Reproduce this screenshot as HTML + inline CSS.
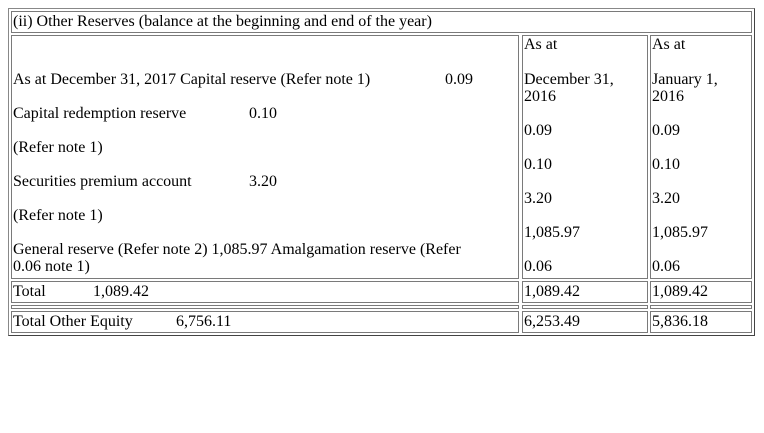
<!DOCTYPE html>
<html><head><meta charset="utf-8"><style>
body{margin:0;width:764px;height:433px;background:#fff;position:relative;font-family:"Liberation Serif",serif;font-size:16px;color:#000;overflow:hidden}
.b{position:absolute;border:1px solid #7a7a7a;box-sizing:border-box}
.t{position:absolute;white-space:nowrap;line-height:18px}
</style></head><body>
<div class="b" style="left:8px;top:8px;width:747px;height:328px;border-color:#888;border-right-color:#444;border-bottom-color:#444"></div>
<div class="b" style="left:11px;top:11px;width:741px;height:22px"></div>
<div class="b" style="left:11px;top:35px;width:508px;height:244px"></div>
<div class="b" style="left:522px;top:35px;width:126px;height:244px"></div>
<div class="b" style="left:650px;top:35px;width:102px;height:244px"></div>
<div class="b" style="left:11px;top:281px;width:508px;height:22px"></div>
<div class="b" style="left:522px;top:281px;width:126px;height:22px"></div>
<div class="b" style="left:650px;top:281px;width:102px;height:22px"></div>
<div class="b" style="left:11px;top:305px;width:508px;height:4px"></div>
<div class="b" style="left:522px;top:305px;width:126px;height:4px"></div>
<div class="b" style="left:650px;top:305px;width:102px;height:4px"></div>
<div class="b" style="left:11px;top:311px;width:508px;height:22px"></div>
<div class="b" style="left:522px;top:311px;width:126px;height:22px"></div>
<div class="b" style="left:650px;top:311px;width:102px;height:22px"></div>

<span class="t" style="left:13px;top:13px">(ii) Other Reserves (balance at the beginning and end of the year)</span>

<span class="t" style="left:13px;top:71px">As at December 31, 2017 Capital reserve (Refer note 1)</span>
<span class="t" style="left:445px;top:71px">0.09</span>
<span class="t" style="left:13px;top:105px">Capital redemption reserve</span>
<span class="t" style="left:249px;top:105px">0.10</span>
<span class="t" style="left:13px;top:139px">(Refer note 1)</span>
<span class="t" style="left:13px;top:173px">Securities premium account</span>
<span class="t" style="left:249px;top:173px">3.20</span>
<span class="t" style="left:13px;top:207px">(Refer note 1)</span>
<span class="t" style="left:13px;top:241px">General reserve (Refer note 2) 1,085.97 Amalgamation reserve (Refer</span>
<span class="t" style="left:13px;top:258px">0.06 note 1)</span>

<span class="t" style="left:524px;top:36px">As at</span>
<span class="t" style="left:524px;top:71px">December 31,</span>
<span class="t" style="left:524px;top:88px">2016</span>
<span class="t" style="left:524px;top:122px">0.09</span>
<span class="t" style="left:524px;top:156px">0.10</span>
<span class="t" style="left:524px;top:190px">3.20</span>
<span class="t" style="left:524px;top:224px">1,085.97</span>
<span class="t" style="left:524px;top:258px">0.06</span>

<span class="t" style="left:652px;top:36px">As at</span>
<span class="t" style="left:652px;top:71px">January 1,</span>
<span class="t" style="left:652px;top:88px">2016</span>
<span class="t" style="left:652px;top:122px">0.09</span>
<span class="t" style="left:652px;top:156px">0.10</span>
<span class="t" style="left:652px;top:190px">3.20</span>
<span class="t" style="left:652px;top:224px">1,085.97</span>
<span class="t" style="left:652px;top:258px">0.06</span>

<span class="t" style="left:13px;top:283px">Total</span>
<span class="t" style="left:93px;top:283px">1,089.42</span>
<span class="t" style="left:524px;top:283px">1,089.42</span>
<span class="t" style="left:652px;top:283px">1,089.42</span>

<span class="t" style="left:13px;top:313px">Total Other Equity</span>
<span class="t" style="left:176px;top:313px">6,756.11</span>
<span class="t" style="left:524px;top:313px">6,253.49</span>
<span class="t" style="left:652px;top:313px">5,836.18</span>
</body></html>
